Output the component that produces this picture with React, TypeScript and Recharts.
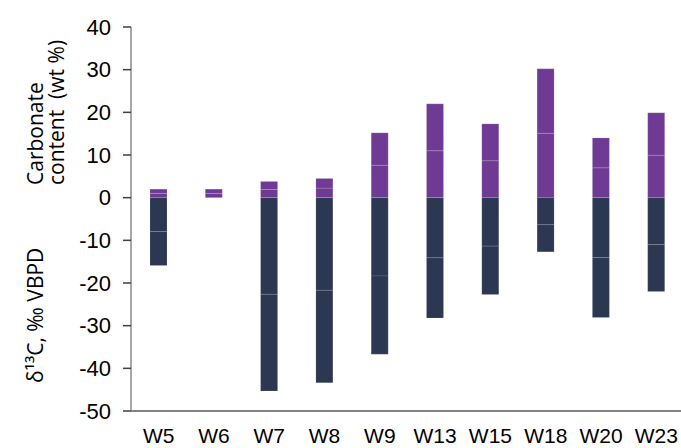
import React from 'react';
import { BarChart, Bar, XAxis, YAxis } from 'recharts';

const categories = ['W5', 'W6', 'W7', 'W8', 'W9', 'W13', 'W15', 'W18', 'W20', 'W23'];
const carbonateContent = [2.0, 2.0, 3.8, 4.5, 15.2, 22.0, 17.3, 30.2, 14.0, 19.9];
const delta13C: (number | null)[] = [-15.9, null, -45.3, -43.4, -36.7, -28.2, -22.7, -12.7, -28.1, -22.0];
const yTicks = [-50, -40, -30, -20, -10, 0, 10, 20, 30, 40];

const PURPLE = '#6e3a93';
const NAVY = '#2c3752';

const data = categories.map((name, i) => ({
  name,
  carb: carbonateContent[i],
  d13c: delta13C[i],
}));

const half = (v: number | null) => (v == null ? null : v / 2);

const YTitle = () => (
  <g fontFamily="'Open Sans', sans-serif" fontSize={21} fill="#000">
    <text x={43} y={185} transform="rotate(-90, 43, 185)" textAnchor="start">Carbonate</text>
    <text x={63.5} y={185} transform="rotate(-90, 63.5, 185)" textAnchor="start">{'content\u00a0 (wt %)'}</text>
    <text x={43} y={383} transform="rotate(-90, 43, 383)" textAnchor="start">δ¹³C, ‰ VBPD</text>
  </g>
);

export default function App() {
  return (
    <div style={{ position: 'absolute', left: 0, top: 0, width: 681, height: 448, overflow: 'hidden', background: '#fff' }}>
      <BarChart
        width={684}
        height={448}
        data={data}
        stackOffset="sign"
        margin={{ top: 27, right: 0, bottom: 0, left: 0 }}
        barCategoryGap={0}
      >
        <XAxis
          dataKey="name"
          height={37}
          tickLine={false}
          tickSize={0}
          tickMargin={17}
          axisLine={{ stroke: '#5a5a5a', strokeWidth: 1.5 }}
          tick={{ fontFamily: "'Liberation Sans', Arial, sans-serif", fontSize: 21, fill: '#000' }}
          interval={0}
        />
        <YAxis
          width={131}
          domain={[-50, 40]}
          ticks={yTicks}
          type="number"
          allowDataOverflow
          tickSize={8}
          tickMargin={12}
          axisLine={{ stroke: '#8a8a8a', strokeWidth: 1.5 }}
          tickLine={{ stroke: '#404040', strokeWidth: 1.5 }}
          tick={{ fontFamily: "'Liberation Sans', Arial, sans-serif", fontSize: 22, fill: '#000' }}
          label={{ content: () => <YTitle /> }}
        />
        <Bar dataKey={(d: any) => half(d.carb)} stackId="s" fill={PURPLE} stroke="rgba(255,255,255,0.15)" strokeWidth={1} barSize={17} isAnimationActive={false} />
        <Bar dataKey={(d: any) => half(d.carb)} stackId="s" fill={PURPLE} stroke="rgba(255,255,255,0.15)" strokeWidth={1} barSize={17} isAnimationActive={false} />
        <Bar dataKey={(d: any) => half(d.d13c)} stackId="s" fill={NAVY} stroke="rgba(255,255,255,0.12)" strokeWidth={1} barSize={17} isAnimationActive={false} />
        <Bar dataKey={(d: any) => half(d.d13c)} stackId="s" fill={NAVY} stroke="rgba(255,255,255,0.12)" strokeWidth={1} barSize={17} isAnimationActive={false} />
      </BarChart>
    </div>
  );
}
